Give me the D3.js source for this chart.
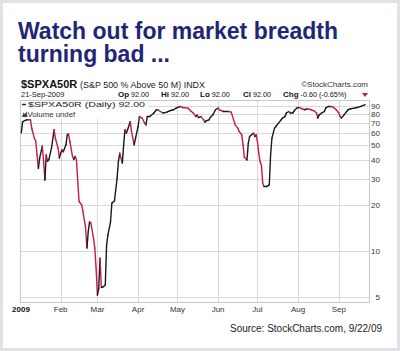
<!DOCTYPE html>
<html><head><meta charset="utf-8">
<script src="https://cdn.jsdelivr.net/npm/d3@7"></script>
<style>html,body{margin:0;padding:0;background:#fff}svg{display:block}</style>
</head><body>
<script>
const titleLines = ["Watch out for market breadth", "turning bad ..."];
const symbol = "$SPXA50R";
const symbolDesc = "(S&P 500 % Above 50 M) INDX";
const dateLabel = "21-Sep-2009";
const quoteLabels = ["Op", "Hi", "Lo", "Cl", "Chg"];
const quoteValues = ["92.00", "92.00", "92.00", "92.00", "-0.60 (-0.65%)"];
const legendText = "$SPXA50R (Daily) 92.00";
const monthTicks = ["2009-02-01","2009-03-01","2009-04-01","2009-05-01","2009-06-01","2009-07-01","2009-08-01","2009-09-01"];
const monthLabels = ["Feb","Mar","Apr","May","Jun","Jul","Aug","Sep"];
const yTicks = [90,80,70,60,50,40,30,20,10,5];
const source = "Source: StockCharts.com, 9/22/09";

const dates = [
"2009-01-02","2009-01-03","2009-01-06","2009-01-09","2009-01-10","2009-01-12","2009-01-13","2009-01-14","2009-01-15","2009-01-16",
"2009-01-18","2009-01-19","2009-01-20","2009-01-21","2009-01-22","2009-01-23","2009-01-25","2009-01-27","2009-01-28","2009-01-30",
"2009-01-31","2009-02-01","2009-02-02","2009-02-03","2009-02-05","2009-02-06","2009-02-07","2009-02-08","2009-02-10","2009-02-11",
"2009-02-12","2009-02-13","2009-02-15","2009-02-17","2009-02-18","2009-02-20","2009-02-21","2009-02-22","2009-02-23","2009-02-24",
"2009-02-26","2009-02-27","2009-02-28","2009-03-01","2009-03-02","2009-03-03","2009-03-04","2009-03-05","2009-03-07","2009-03-08",
"2009-03-09","2009-03-11","2009-03-12","2009-03-14","2009-03-16","2009-03-17","2009-03-18","2009-03-20","2009-03-21","2009-03-22",
"2009-03-23","2009-03-24","2009-03-26","2009-03-27","2009-03-29","2009-03-30","2009-04-01","2009-04-02","2009-04-04","2009-04-06",
"2009-04-07","2009-04-08","2009-04-10","2009-04-13","2009-04-15","2009-04-16","2009-04-18","2009-04-20","2009-04-23","2009-04-25",
"2009-04-28","2009-04-30","2009-05-03","2009-05-05","2009-05-09","2009-05-11","2009-05-13","2009-05-15","2009-05-16","2009-05-17",
"2009-05-19","2009-05-21","2009-05-22","2009-05-23","2009-05-25","2009-05-26","2009-05-28","2009-05-30","2009-06-01","2009-06-02",
"2009-06-05","2009-06-09","2009-06-11","2009-06-14","2009-06-16","2009-06-17","2009-06-19","2009-06-20","2009-06-21","2009-06-23",
"2009-06-24","2009-06-25","2009-06-28","2009-06-29","2009-06-30","2009-07-01","2009-07-02","2009-07-03","2009-07-04","2009-07-05",
"2009-07-06","2009-07-08","2009-07-10","2009-07-11","2009-07-12","2009-07-14","2009-07-15","2009-07-17","2009-07-19","2009-07-20",
"2009-07-22","2009-07-23","2009-07-25","2009-07-26","2009-07-28","2009-07-29","2009-07-31","2009-08-02","2009-08-04","2009-08-06",
"2009-08-08","2009-08-11","2009-08-13","2009-08-15","2009-08-16","2009-08-17","2009-08-19","2009-08-21","2009-08-22","2009-08-24",
"2009-08-26","2009-08-28","2009-08-30","2009-09-01","2009-09-02","2009-09-03","2009-09-05","2009-09-07","2009-09-08","2009-09-10",
"2009-09-13","2009-09-15","2009-09-18","2009-09-21"];
const values = [
60,71,73,73,64,55,53,43,35,41,
49,39,29.4,43,39,40,47.6,62.8,55,47.6,
41,44,46.4,45,50,58,59,52.6,42,40,
42,40,21.2,20.2,18.2,14.2,10.5,13.4,15.6,15.3,
12.2,10.5,7.7,5.15,5.7,9.0,5.8,5.8,6.0,11,
12.8,15.6,20.7,21.4,30.2,38.8,44,37.9,50,62.8,
59.7,62.8,71,61,50,55,66,76.7,75,69.4,
67.7,76.7,76.7,81,85,85,82.8,81,82,83.7,
85,87.2,89.3,88,87.2,83.7,81,76.7,78.7,75.6,
76.7,73,70.5,72,73,75.6,78.7,85,87.2,85,
82.8,82.8,82,67.7,64.4,61.2,58.2,50,41.4,39.8,
51.3,56.7,59.7,56.7,58.2,52.6,44,38.8,36.9,28,
26.6,26.6,27.3,43,55.3,64.4,66,69.4,73,75,
76.7,81,82.8,81,81,83.7,87.2,88,86.3,85,
86.3,85,83.7,81,75,78.7,81,82.8,87.2,89.3,
89.3,88,85,81,76.7,75,78.7,82.8,85,86.3,
87.2,88,89.5,92];

const W = 400, H = 351;
const parse = d3.timeParse("%Y-%m-%d");
const data = dates.map((d, i) => ({date: parse(d), value: values[i]}));

const svg = d3.select("body").append("svg").attr("width", W).attr("height", H);
svg.append("rect").attr("width", W).attr("height", H).attr("fill", "#dfe2e6");
svg.append("rect").attr("x", 3).attr("y", 3).attr("width", 394).attr("height", 345).attr("fill", "#fff");

// title
const navy = "#1f2676";
const tl = [[18, 39, 320], [18, 62, 152]];
titleLines.forEach((t, i) => {
  svg.append("text").attr("x", tl[i][0]).attr("y", tl[i][1])
    .attr("textLength", tl[i][2]).attr("lengthAdjust", "spacingAndGlyphs")
    .attr("font-family", "Liberation Sans, Arial, sans-serif").attr("font-weight", 900)
    .attr("font-size", 23.5).attr("fill", navy).text(t);
});

const ff = "Liberation Sans, Arial, sans-serif";
// header
svg.append("text").attr("x", 21).attr("y", 88).attr("font-family", ff).attr("font-weight", "bold")
  .attr("font-size", 11).attr("fill", "#111").text(symbol);
svg.append("text").attr("x", 80).attr("y", 87.5).attr("font-family", ff)
  .attr("font-size", 8.5).attr("fill", "#222").attr("textLength", 125).attr("lengthAdjust", "spacingAndGlyphs").text(symbolDesc);
svg.append("text").attr("x", 368).attr("y", 87).attr("text-anchor", "end").attr("font-family", ff)
  .attr("font-size", 8).attr("fill", "#333").text("\u00A9StockCharts.com");
svg.append("text").attr("x", 21).attr("y", 96.5).attr("font-family", ff)
  .attr("font-size", 7.5).attr("fill", "#222").text(dateLabel);
const qx = [118, 161, 200, 243, 283];
const row = svg.append("g");
quoteLabels.forEach((l, i) => {
  const t = row.append("text").attr("x", qx[i]).attr("y", 96.5).attr("font-family", ff).attr("font-size", 8).attr("fill", "#111");
  t.append("tspan").attr("font-weight", "bold").text(l);
  t.append("tspan").attr("font-size", 7.2).text(" " + quoteValues[i]);
});
svg.append("path").attr("d", "M362,93 L368,93 L365,97 Z").attr("fill", "#c41e4a");

// plot frame
const L = 20, R = 369, T = 100, B = 302;
const x = d3.scaleTime().domain([parse("2009-01-01"), parse("2009-09-24")]).range([L, R]);
const y = d3.scaleLog().domain([5, 90]).range([297, 106]);

const grid = svg.append("g").attr("stroke", "#d9d9d9").attr("stroke-width", 1);
yTicks.forEach(v => grid.append("line").attr("x1", L).attr("x2", R).attr("y1", Math.round(y(v)) + 0.5).attr("y2", Math.round(y(v)) + 0.5));
monthTicks.forEach(m => grid.append("line").attr("x1", Math.round(x(parse(m))) + 0.5).attr("x2", Math.round(x(parse(m))) + 0.5).attr("y1", T).attr("y2", B));
svg.append("rect").attr("x", L + 0.5).attr("y", T + 0.5).attr("width", R - L).attr("height", B - T)
  .attr("fill", "none").attr("stroke", "#c8c8c8");

// legend
svg.append("rect").attr("x", L + 1).attr("y", T + 1).attr("width", 128).attr("height", 18).attr("fill", "#fff");
svg.append("line").attr("x1", 22).attr("x2", 26).attr("y1", 104.5).attr("y2", 104.5).attr("stroke", "#222").attr("stroke-width", 1.5);
svg.append("text").attr("x", 28).attr("y", 107).attr("font-family", ff).attr("font-size", 8)
  .attr("fill", "#222").attr("textLength", 117).attr("lengthAdjust", "spacingAndGlyphs").text(legendText);
svg.append("path").attr("d", "M22,117 L23.5,112.5 L25,114 L26.5,111.5 L27.5,117 Z").attr("fill", "#444");
svg.append("text").attr("x", 27.5).attr("y", 116.5).attr("font-family", ff).attr("font-size", 7.8)
  .attr("fill", "#333").text("Volume undef");

// line segments coloured by direction
const red = "#c8194a", blk = "#1a1a1a";
const segs = svg.append("g").attr("stroke-width", 1.4).attr("fill", "none").attr("stroke-linecap", "round");
for (let i = 1; i < data.length; i++) {
  const a = data[i - 1], b = data[i];
  segs.append("line").attr("x1", x(a.date)).attr("y1", y(a.value)).attr("x2", x(b.date)).attr("y2", y(b.value))
    .attr("stroke", b.value < a.value ? red : blk);
}

// y labels
yTicks.forEach(v => svg.append("text").attr("x", 380).attr("y", y(v) + 3).attr("text-anchor", "end")
  .attr("font-family", ff).attr("font-size", 8).attr("fill", "#333").text(v));

// x labels
svg.append("text").attr("x", 21).attr("y", 312).attr("text-anchor", "middle").attr("font-family", ff)
  .attr("font-weight", "bold").attr("font-size", 8).attr("fill", "#111").text("2009");
monthTicks.forEach((m, i) => svg.append("text").attr("x", x(parse(m))).attr("y", 312).attr("text-anchor", "middle")
  .attr("font-family", ff).attr("font-size", 8).attr("fill", "#333").text(monthLabels[i]));

svg.append("text").attr("x", 382).attr("y", 332).attr("text-anchor", "end").attr("font-family", ff)
  .attr("font-size", 10).attr("fill", "#222").attr("textLength", 152).attr("lengthAdjust", "spacingAndGlyphs").text(source);
</script>
</body></html>
